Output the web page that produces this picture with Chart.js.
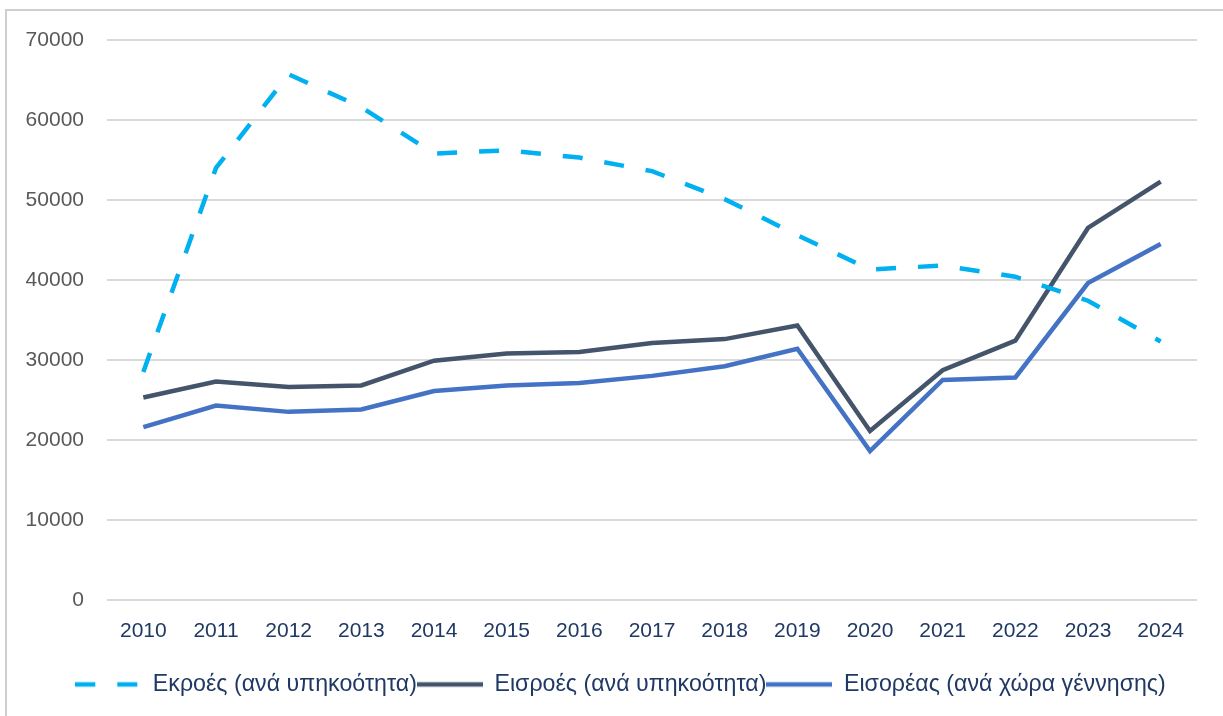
<!DOCTYPE html>
<html>
<head>
<meta charset="utf-8">
<script src="https://cdn.jsdelivr.net/npm/chart.js@4.4.1/dist/chart.umd.min.js"></script>
<style>
  html, body { margin: 0; padding: 0; background: #ffffff; }
  #wrap { position: relative; width: 1223px; height: 716px; }
  #frame { position: absolute; left: 5px; top: 9px; right: 0; bottom: 0;
           border-left: 2px solid #cfcfcf; border-top: 2px solid #cfcfcf; pointer-events: none; }
</style>
</head>
<body>
<div id="wrap">
  <canvas id="c" width="1223" height="716"></canvas>
  <div id="frame"></div>
</div>
<script>
const years = ['2010','2011','2012','2013','2014','2015','2016','2017','2018','2019','2020','2021','2022','2023','2024'];
const outflowsLabel = 'Εκροές (ανά υπηκοότητα)';
const inflowsLabel = 'Εισροές (ανά υπηκοότητα)';
const inflowsBirthLabel = 'Εισορέας (ανά χώρα γέννησης)';
const outflows = [28500, 54000, 65700, 61600, 55800, 56200, 55300, 53600, 50100, 45600, 41300, 41800, 40400, 37400, 32300];
const inflows = [25300, 27300, 26600, 26800, 29900, 30800, 31000, 32100, 32600, 34300, 21100, 28700, 32400, 46500, 52300];
const inflowsBirth = [21600, 24300, 23500, 23800, 26100, 26800, 27100, 28000, 29200, 31400, 18600, 27500, 27800, 39600, 44500];
const yTicks = [0, 10000, 20000, 30000, 40000, 50000, 60000, 70000];

const DASH = [20, 22];
function sample(color, dash) {
  const cv = document.createElement('canvas');
  cv.width = 66; cv.height = 8;
  const g = cv.getContext('2d');
  g.strokeStyle = color; g.lineWidth = 4.5; g.lineCap = 'butt';
  if (dash) g.setLineDash(DASH);
  g.beginPath(); g.moveTo(0, 4); g.lineTo(dash ? 63 : 66, 4); g.stroke();
  return cv;
}
const samples = [sample('#00B0F0', true), sample('#44546A', false), sample('#4472C4', false)];

const baseFont = "'Liberation Sans', Arial, sans-serif";

const shiftLegend = {
  id: 'shiftLegend',
  afterLayout(chart) {
    const lg = chart.legend;
    if (lg) { lg.left += 22; lg.right += 22; }
  }
};

new Chart(document.getElementById('c'), {
  type: 'line',
  data: {
    labels: years,
    datasets: [
      { label: outflowsLabel, data: outflows, borderColor: '#00B0F0', backgroundColor: '#00B0F0',
        borderWidth: 4.5, borderDash: DASH, pointRadius: 0, tension: 0 },
      { label: inflowsLabel, data: inflows, borderColor: '#44546A', backgroundColor: '#44546A',
        borderWidth: 4.5, pointRadius: 0, tension: 0 },
      { label: inflowsBirthLabel, data: inflowsBirth, borderColor: '#4472C4', backgroundColor: '#4472C4',
        borderWidth: 4.5, pointRadius: 0, tension: 0 }
    ]
  },
  options: {
    responsive: false,
    animation: false,
    layout: { padding: { left: 0, right: 26, top: 40, bottom: 10 } },
    scales: {
      x: {
        offset: true,
        grid: { display: false },
        border: { display: false },
        ticks: { color: '#203864', font: { family: baseFont, size: 21 }, padding: 11, maxRotation: 0 },
        afterFit: s => { s.height = 73; }
      },
      y: {
        min: 0, max: 70000,
        afterBuildTicks: s => { s.ticks = yTicks.map(v => ({ value: v })); },
        grid: { color: '#d9d9d9', lineWidth: 2, drawTicks: false },
        border: { display: false },
        ticks: { color: '#595959', font: { family: baseFont, size: 21 }, padding: 23,
                 callback: v => String(v) },
        afterFit: s => { s.width = 107; }
      }
    },
    plugins: {
      tooltip: { enabled: false },
      legend: {
        position: 'bottom',
        labels: {
          usePointStyle: true,
          pointStyleWidth: 66,
          padding: 0,
          color: '#203864',
          font: { family: baseFont, size: 23.2 },
          generateLabels: chart => {
            const items = Chart.defaults.plugins.legend.labels.generateLabels(chart);
            items.forEach((it, i) => { it.pointStyle = samples[i]; it.lineDash = []; });
            return items;
          }
        }
      }
    }
  },
  plugins: [shiftLegend]
});
</script>
</body>
</html>
